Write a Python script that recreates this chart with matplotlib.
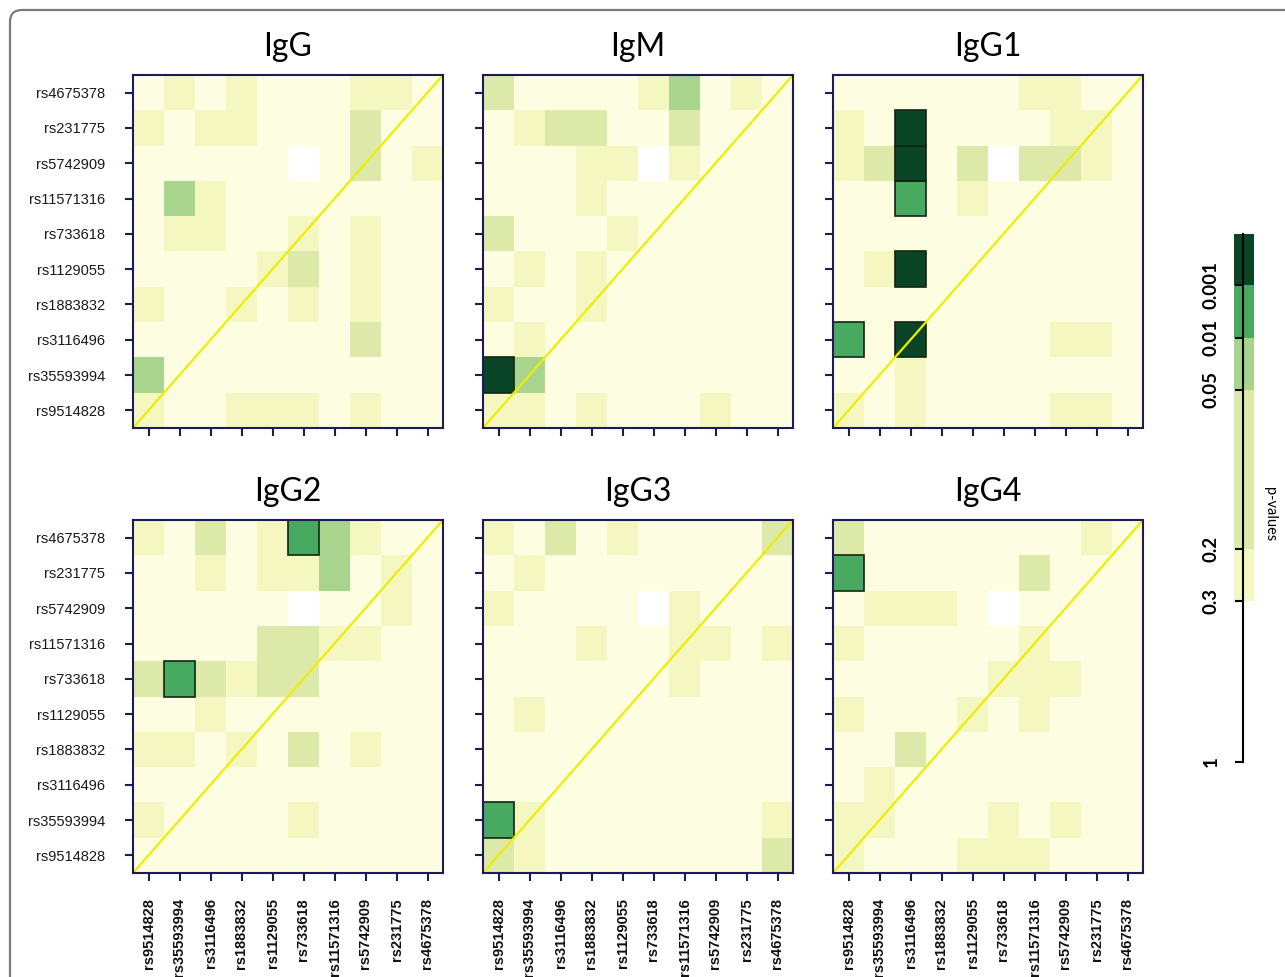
import numpy as np
import matplotlib
matplotlib.use('Agg')
import matplotlib.pyplot as plt
from matplotlib.colors import ListedColormap, BoundaryNorm
from matplotlib.patches import FancyBboxPatch, Rectangle

nan = np.nan

# SNPs along the x axis (left -> right); y axis shows them top -> bottom reversed
snps = ['rs9514828', 'rs35593994', 'rs3116496', 'rs1883832', 'rs1129055',
        'rs733618', 'rs11571316', 'rs5742909', 'rs231775', 'rs4675378']

# p-value bins of the colour key
p_bounds = [0, 0.001, 0.01, 0.05, 0.2, 0.3, 1]
p_ticklabels = ['0.001', '0.01', '0.05', '0.2', '0.3', '1']

# estimated p-values, rows top (rs4675378) -> bottom (rs9514828)
igg = [
    [.6, .25, .6, .25, .6, .6, .6, .25, .25, .6],
    [.25, .6, .25, .25, .6, .6, .6, .1, .6, .6],
    [.6, .6, .6, .6, .6, nan, .6, .1, .6, .25],
    [.6, .03, .25, .6, .6, .6, .6, .6, .6, .6],
    [.6, .25, .25, .6, .6, .25, .6, .25, .6, .6],
    [.6, .6, .6, .6, .25, .1, .6, .25, .6, .6],
    [.25, .6, .6, .25, .6, .25, .6, .25, .6, .6],
    [.6, .6, .6, .6, .6, .6, .6, .1, .6, .6],
    [.03, .6, .6, .6, .6, .6, .6, .6, .6, .6],
    [.25, .6, .6, .25, .25, .25, .6, .25, .6, .6],
]
igm = [
    [.1, .6, .6, .6, .6, .25, .03, .6, .25, .6],
    [.6, .25, .1, .1, .6, .6, .1, .6, .6, .6],
    [.6, .6, .6, .25, .25, nan, .25, .6, .6, .6],
    [.6, .6, .6, .25, .6, .6, .6, .6, .6, .6],
    [.1, .6, .6, .6, .25, .6, .6, .6, .6, .6],
    [.6, .25, .6, .25, .6, .6, .6, .6, .6, .6],
    [.25, .6, .6, .25, .6, .6, .6, .6, .6, .6],
    [.6, .25, .6, .6, .6, .6, .6, .6, .6, .6],
    [.0005, .03, .6, .6, .6, .6, .6, .6, .6, .6],
    [.25, .25, .6, .25, .6, .6, .6, .25, .6, .6],
]
igg1 = [
    [.6, .6, .6, .6, .6, .6, .25, .25, .6, .6],
    [.25, .6, .0005, .6, .6, .6, .6, .25, .25, .6],
    [.25, .1, .0005, .6, .1, nan, .1, .1, .25, .6],
    [.6, .6, .005, .6, .25, .6, .6, .6, .6, .6],
    [.6, .6, .6, .6, .6, .6, .6, .6, .6, .6],
    [.6, .25, .0005, .6, .6, .6, .6, .6, .6, .6],
    [.6, .6, .6, .6, .6, .6, .6, .6, .6, .6],
    [.005, .6, .0005, .6, .6, .6, .6, .25, .25, .6],
    [.6, .6, .25, .6, .6, .6, .6, .6, .6, .6],
    [.25, .6, .25, .6, .6, .6, .6, .25, .25, .6],
]
igg2 = [
    [.25, .6, .1, .6, .25, .005, .03, .25, .6, .6],
    [.6, .6, .25, .6, .25, .25, .03, .6, .25, .6],
    [.6, .6, .6, .6, .6, nan, .6, .6, .25, .6],
    [.6, .6, .6, .6, .1, .1, .25, .25, .6, .6],
    [.1, .005, .1, .25, .1, .1, .6, .6, .6, .6],
    [.6, .6, .25, .6, .6, .6, .6, .6, .6, .6],
    [.25, .25, .6, .25, .6, .1, .6, .25, .6, .6],
    [.6, .6, .6, .6, .6, .6, .6, .6, .6, .6],
    [.25, .6, .6, .6, .6, .25, .6, .6, .6, .6],
    [.6, .6, .6, .6, .6, .6, .6, .6, .6, .6],
]
igg3 = [
    [.25, .6, .1, .6, .25, .6, .6, .6, .6, .1],
    [.6, .25, .6, .6, .6, .6, .6, .6, .6, .6],
    [.25, .6, .6, .6, .6, nan, .25, .6, .6, .6],
    [.6, .6, .6, .25, .6, .6, .25, .25, .6, .25],
    [.6, .6, .6, .6, .6, .6, .25, .6, .6, .6],
    [.6, .25, .6, .6, .6, .6, .6, .6, .6, .6],
    [.6, .6, .6, .6, .6, .6, .6, .6, .6, .6],
    [.6, .6, .6, .6, .6, .6, .6, .6, .6, .6],
    [.005, .25, .6, .6, .6, .6, .6, .6, .6, .25],
    [.1, .25, .6, .6, .6, .6, .6, .6, .6, .1],
]
igg4 = [
    [.1, .6, .6, .6, .6, .6, .6, .6, .25, .6],
    [.005, .6, .6, .6, .6, .6, .1, .6, .6, .6],
    [.6, .25, .25, .25, .6, nan, .6, .6, .6, .6],
    [.25, .6, .6, .6, .6, .6, .25, .6, .6, .6],
    [.6, .6, .6, .6, .6, .25, .25, .25, .6, .6],
    [.25, .6, .6, .6, .25, .6, .25, .6, .6, .6],
    [.6, .6, .1, .6, .6, .6, .6, .6, .6, .6],
    [.6, .25, .6, .6, .6, .6, .6, .6, .6, .6],
    [.25, .25, .6, .6, .6, .25, .6, .25, .6, .6],
    [.25, .6, .6, .6, .25, .25, .25, .6, .6, .6],
]

panel_names = ['IgG', 'IgM', 'IgG1', 'IgG2', 'IgG3', 'IgG4']
panel_data = [igg, igm, igg1, igg2, igg3, igg4]

# colours for each p bin (most to least significant)
bin_colors = ['#0b4527', '#48aa60', '#a9d48e', '#dce9a9', '#f5f7c1', '#fcfde1']
cmap = ListedColormap(bin_colors)
cmap.set_bad('white')
norm = BoundaryNorm(p_bounds, cmap.N)

navy = '#1b1b55'
W, H = 1285, 977
fig = plt.figure(figsize=(W / 100, H / 100), dpi=100)

# rounded frame around the figure
frame = FancyBboxPatch((10, -40), 1320, H - 10 + 40, boxstyle='round,pad=0,rounding_size=12',
                       transform=None, fill=False, edgecolor='#7a7a7a', lw=1.6)
fig.add_artist(frame)

lefts = [133, 483, 833]
tops = [75, 520]
pw, ph = 310, 353
n = len(snps)

for k, (name, mat) in enumerate(zip(panel_names, panel_data)):
    row, col = divmod(k, 3)
    l, t = lefts[col], tops[row]
    ax = fig.add_axes([l / W, 1 - (t + ph) / H, pw / W, ph / H])
    z = np.ma.masked_invalid(np.array(mat)[::-1])
    ax.pcolormesh(np.arange(n + 1), np.arange(n + 1), z, cmap=cmap, norm=norm,
                  shading='flat')
    # outline the highly significant cells
    for i in range(n):
        for j in range(n):
            v = z[i, j]
            if v is not np.ma.masked and v < 0.01:
                ax.add_patch(Rectangle((j, i), 1, 1, fill=False, edgecolor='#122612', lw=1.2))
    ax.plot([0, n], [0, n], color='#eeee00', lw=1.6)
    ax.set_xlim(0, n)
    ax.set_ylim(0, n)
    ax.set_xticks(np.arange(n) + 0.5)
    ax.set_yticks(np.arange(n) + 0.5)
    if row == 1:
        ax.set_xticklabels(snps, rotation=90, fontsize=10.5, fontweight='bold',
                           family='Liberation Sans', color='#111111')
    else:
        ax.set_xticklabels([])
    if col == 0:
        ax.set_yticklabels(snps, fontsize=10.5, family='Liberation Sans', color='#1a1a1a')
    else:
        ax.set_yticklabels([])
    ax.tick_params(axis='x', direction='out', length=6, width=1.5, color=navy, pad=12)
    ax.tick_params(axis='y', direction='out', length=6, width=1.5, color=navy, pad=14)
    for s in ax.spines.values():
        s.set_color(navy)
        s.set_linewidth(1.5)
    ax.set_title(name, fontsize=23, family='Lato', pad=14)

# colour key
cb_top, cb_bot = 234, 762
cax = fig.add_axes([1234 / W, 1 - cb_bot / H, 20 / W, (cb_bot - cb_top) / H])
# vertical placement of each bin boundary in the key (pixels from the bottom)
key_pos = [528, 477, 424, 372, 213, 161, 0]
for lo, hi, c in zip(key_pos[1:-1], key_pos[:-2], bin_colors[:-1]):
    cax.axhspan(lo, hi, color=c, lw=0)
cax.set_ylim(0, key_pos[0])
cax.set_xlim(0, 1)
cax.set_xticks([])
for side in ['top', 'right', 'bottom']:
    cax.spines[side].set_visible(False)
cax.spines['left'].set_position(('axes', 0.45))
cax.spines['left'].set_linewidth(1.5)
cax.set_facecolor('none')
cax.set_yticks(key_pos[1:])
cax.set_yticklabels(p_ticklabels, rotation=90, va='center', fontsize=13.5,
                    fontweight='bold', family='Lato')
cax.tick_params(axis='y', direction='out', length=6, width=1.5, pad=11)
cax.text(1.8, 0.47, 'p-values', rotation=270, transform=cax.transAxes, fontsize=10.5,
         family='Lato', ha='center', va='center')

fig.savefig('out.png', dpi=100)
